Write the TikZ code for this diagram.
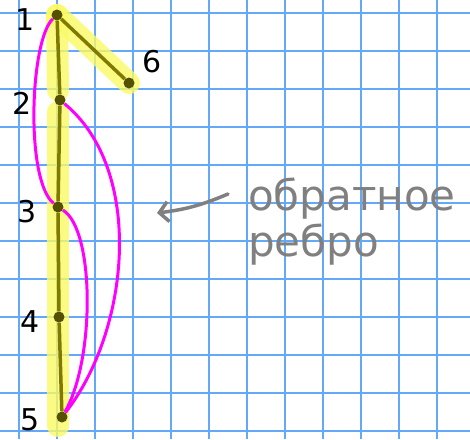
\documentclass[tikz,border=0pt]{standalone}
\usepackage{fontspec}
\setmainfont{DejaVu Sans}
\usetikzlibrary{arrows.meta, backgrounds}
\definecolor{setka}{RGB}{100,168,250}
\definecolor{derevo}{RGB}{128,122,0}
\definecolor{uzel}{RGB}{85,80,0}
\definecolor{marker}{RGB}{250,250,100}
\definecolor{obratnoe}{RGB}{255,0,255}

\begin{document}
\begin{tikzpicture}[x=1pt, y=-1pt, >={Straight Barb[length=9pt, width=20pt]},
    vershina/.style={circle, fill=uzel, inner sep=0pt, minimum size=11pt},
    metka/.style={font=\fontsize{30}{30}\selectfont},
    podsvetka/.style={marker, opacity=0.8, line width=22pt, line cap=round},
    rebrotree/.style={derevo, line width=3.5pt},
    rebroback/.style={obratnoe, line width=3pt}]

    \useasboundingbox (0,0) rectangle (470,439);

    % Vershiny
    \node[vershina] (v1) at (57,15) {};
    \node[vershina] (v2) at (60,100) {};
    \node[vershina] (v3) at (58,207) {};
    \node[vershina] (v4) at (59,317) {};
    \node[vershina] (v5) at (62,417) {};
    \node[vershina] (v6) at (129,83) {};

    \begin{pgfonlayer}{background}
        % Setka (tetrad v kletku)
        \fill[white] (0,0) rectangle (470,439);
        \foreach \x in {19,57,...,437}
            \draw[setka, line width=1.8pt] (\x,0) -- (\x,439);
        \foreach \y in {13,51,...,431}
            \draw[setka, line width=1.8pt] (0,\y) -- (470,\y);

        % Podsvetka dereva (zhyoltaya)
        \draw[podsvetka] (v1.center) -- (58,90);
        \draw[podsvetka] (v1.center) -- (v6.center);
        \draw[podsvetka] (58,112) -- (58,426);
    \end{pgfonlayer}

    % Rebra dereva
    \draw[rebrotree] (v1) -- (v2);
    \draw[rebrotree] (v2) -- (v3);
    \draw[rebrotree] (v3) -- (v4);
    \draw[rebrotree] (v4) -- (v5);
    \draw[rebrotree] (v1) -- (v6);

    % Obratnye rebra (rozovye)
    \draw[rebroback] (v1) .. controls (30,40) and (25,180) .. (v3);
    \draw[rebroback] (v2) .. controls (145,170) and (130,330) .. (v5);
    \draw[rebroback] (v3) .. controls (95,230) and (95,360) .. (v5);

    % Nomera vershin
    \node[metka] (n1) at (25,20) {1};
    \node[metka] (n2) at (22,103) {2};
    \node[metka] (n3) at (27,212) {3};
    \node[metka] (n4) at (30,322) {4};
    \node[metka] (n5) at (30,420) {5};
    \node[metka] (n6) at (152,62) {6};

    % Podpis so strelkoj (seraya)
    \node[gray, anchor=west, align=left, inner sep=0pt,
          font=\fontsize{42}{46}\selectfont] (podpis) at (248,222) {обратное\\ ребро};
    \coordinate (cel) at (157,213);
    \draw[gray, line width=3.5pt, ->, line cap=round]
        ([shift={(-20,-28)}]podpis.west) to[bend left=8] (cel);

\end{tikzpicture}
\end{document}
